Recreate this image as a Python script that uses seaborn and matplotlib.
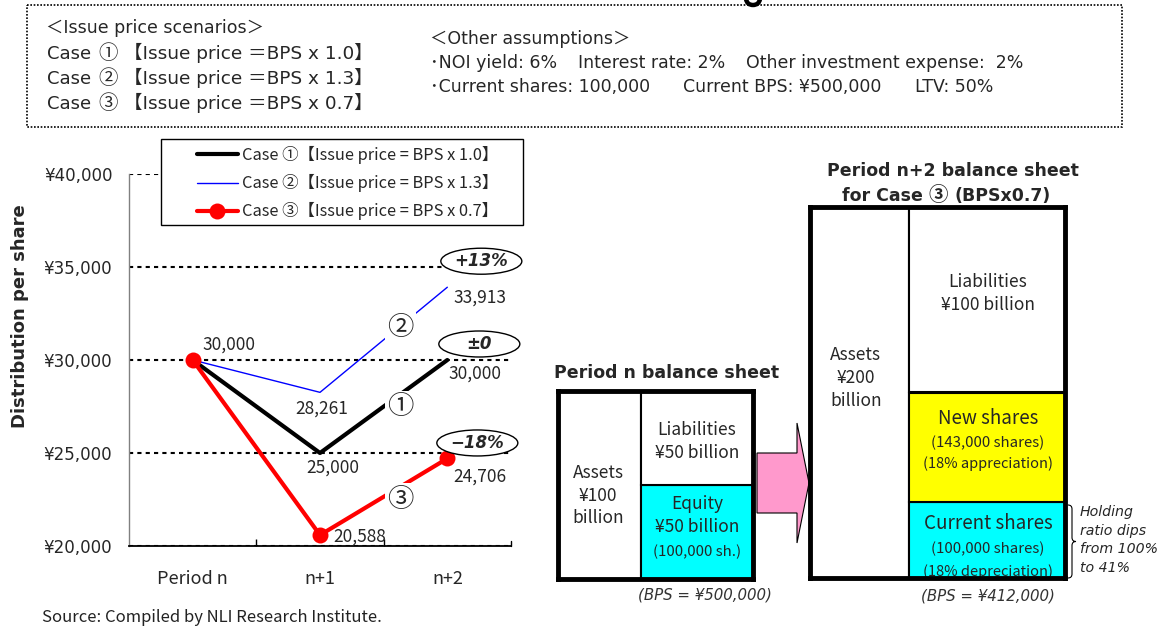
import numpy as np
import pandas as pd
import matplotlib
matplotlib.use("Agg")
import matplotlib.pyplot as plt
import matplotlib.patches as mpatches
from matplotlib.path import Path
from matplotlib.transforms import IdentityTransform
import seaborn as sns

# ---- data ---------------------------------------------------------------
periods = ["Period n", "n+1", "n+2"]
case1 = [30000, 25000, 30000]
case2 = [30000, 28261, 33913]
case3 = [30000, 20588, 24706]
case_names = ["Case ①【Issue price = BPS x 1.0】",
              "Case ②【Issue price = BPS x 1.3】",
              "Case ③【Issue price = BPS x 0.7】"]
circled = ["①", "②", "③"]
multipliers = ["1.0", "1.3", "0.7"]
change_labels = ["±0", "+13%", "−18%"]
y_ticks = [20000, 25000, 30000, 35000, 40000]
y_tick_labels = ["¥20,000", "¥25,000", "¥30,000", "¥35,000", "¥40,000"]

# balance sheets (¥ billion)
bs_n_assets = 100
bs_n_liab = 50
bs_n_equity = 50
bs_n2_assets = 200
bs_n2_liab = 100
bs_n2_new = 59
bs_n2_current = 41

# ---- style --------------------------------------------------------------
sns.set_theme(style="white")
NOTO = ["Noto Sans CJK JP", "DejaVu Sans"]
WIDE = ["DejaVu Sans", "Noto Sans CJK JP"]
plt.rcParams["font.family"] = NOTO
plt.rcParams["axes.unicode_minus"] = False
ITALIC = ["DejaVu Sans"]

W, H = 1165, 627
fig = plt.figure(figsize=(W / 100, H / 100), dpi=100)
fig.patch.set_facecolor("white")
renderer = fig.canvas.get_renderer()

# background canvas in pixel units (origin top-left)
bg = fig.add_axes([0, 0, 1, 1])
bg.set_xlim(0, W)
bg.set_ylim(H, 0)
bg.axis("off")
bg.set_zorder(-1)


def chain(x, y, parts):
    """Write text pieces one after another on a shared baseline."""
    for s, gap, kw in parts:
        x += gap
        t = bg.text(x, y, s, ha="left", va="baseline", **kw)
        x += t.get_window_extent(renderer).width
    return x


# ---- assumptions box ------------------------------------------------------
bg.add_patch(mpatches.Rectangle((27, 5), 1095, 122, fill=False, ec="black",
                                lw=1.2, ls=(0, (1, 1))))
# tail of the heading glyph just above the box
bg.add_patch(mpatches.PathPatch(
    Path([(746, -1), (747, 5), (753, 5), (759, 5), (760, -1)],
         [Path.MOVETO, Path.CURVE3, Path.CURVE3, Path.CURVE3, Path.CURVE3]),
    fill=False, ec="black", lw=3.2, clip_on=False))

top_fs = 12.5
TB = dict(fontsize=top_fs, va="center", family=WIDE)
bg.text(46, 28, "＜Issue price scenarios＞", **TB)
for k, mult in enumerate(multipliers):
    yb = 59 + 25 * k
    chain(47, yb, [
        ("Case", 0, dict(fontsize=13, family=WIDE)),
        (circled[k], 7, dict(fontsize=14, family=NOTO)),
        (f"【Issue price ＝BPS x {mult}】", 6, dict(fontsize=13.3, family=WIDE)),
    ])
bg.text(430, 39, "＜Other assumptions＞", **TB)
bg.text(430, 63, "･NOI yield: 6%", **TB)
bg.text(578, 63, "Interest rate: 2%", **TB)
bg.text(746, 63, "Other investment expense:  2%", **TB)
bg.text(430, 87, "･Current shares: 100,000", **TB)
bg.text(683, 87, "Current BPS: ¥500,000", **TB)
bg.text(915, 87, "LTV: 50%", **TB)

# ---- distribution per share line chart -----------------------------------
ax = fig.add_axes([129 / W, (H - 546) / H, (511 - 129) / W, (546 - 174) / H])
ax.set_facecolor("none")

pos = np.arange(len(periods))
df = pd.DataFrame({
    "pos": np.tile(pos, 3),
    "value": case1 + case2 + case3,
    "case": np.repeat(case_names, len(periods)),
})
line_styles = [
    dict(color="black", linewidth=3.0),
    dict(color="#0000FF", linewidth=1.0),
    dict(color="#FF0000", linewidth=3.0, marker="o", markersize=11.5,
         markeredgewidth=0),
]
for name, st in zip(case_names, line_styles):
    sns.lineplot(data=df[df["case"] == name], x="pos", y="value", ax=ax,
                 label=name, sort=False, **st)

ax.set_xlim(-0.5, len(periods) - 0.5)
ax.set_ylim(y_ticks[0], y_ticks[-1])
ax.set_xticks(pos, labels=periods)
ax.set_xticks(pos[:-1] + 0.5, minor=True)
ax.set_yticks(y_ticks, labels=y_tick_labels)
for lab in ax.get_yticklabels():
    lab.set_family(WIDE)
ax.tick_params(axis="y", length=0, pad=12, labelsize=12)
ax.tick_params(axis="x", which="major", length=0, pad=17, labelsize=13)
ax.tick_params(axis="x", which="minor", direction="in", length=5, width=1,
               color="black", bottom=True)
ax.set_xlabel("")
ax.set_ylabel("")
ax.yaxis.grid(True, color="black", ls=(0, (2, 2)), lw=1.5)
ax.xaxis.grid(False)
ax.set_axisbelow(True)
for s in ["top", "right"]:
    ax.spines[s].set_visible(False)
ax.spines["left"].set_color("#808080")
ax.spines["left"].set_linewidth(1.0)
ax.spines["bottom"].set_color("black")
ax.spines["bottom"].set_linewidth(1.3)
# tick mark at the right end of the category axis
ax.plot([len(periods) - 0.5] * 2, [y_ticks[0], y_ticks[0] + 250], color="black",
        lw=1, clip_on=False)

# legend with a frame that sits over the top gridline
ax.add_patch(mpatches.Rectangle((161, H - 225), 362, 86, transform=IdentityTransform(),
                                fc="white", ec="black", lw=1, zorder=4,
                                clip_on=False))
handles, labels = ax.get_legend_handles_labels()
leg = ax.legend(handles, labels, loc="upper left",
                bbox_to_anchor=(197 / W, 1 - 146 / H), bbox_transform=fig.transFigure,
                frameon=False, borderpad=0, borderaxespad=0,
                prop=dict(family=NOTO, size=11.8),
                handlelength=2.5, handletextpad=0.25, labelspacing=0.62)
leg.set_zorder(5)

# value labels
series = [case1, case2, case3]
value_offsets = {
    (0, 0): (36, 15),
    (0, 1): (13, -15), (1, 1): (2, -16), (2, 1): (40, -2),
    (0, 2): (28, -14), (1, 2): (33, -10), (2, 2): (33, -18),
}
for (ci, pi), (dx, dy) in value_offsets.items():
    v = series[ci][pi]
    ax.annotate(f"{v:,}", xy=(pos[pi], v), xytext=(dx, dy),
                textcoords="offset pixels", ha="center", va="center",
                fontsize=12.5, zorder=6)

# circled case markers on the last segment
for ci in range(3):
    v = series[ci][-1]
    dy = [-47, -40, -41][ci]
    ax.annotate(circled[ci], xy=(pos[-1], v), xytext=(-47, dy),
                textcoords="offset pixels", ha="center", va="center",
                fontsize=19, zorder=6,
                bbox=dict(boxstyle="square,pad=0.1", fc="white", ec="none"))

# change versus period n, in ellipses
ell_off = [(32, 16), (34, 26), (30, 15.5)]
for ci in range(3):
    px, py = ax.transData.transform((pos[-1], series[ci][-1]))
    dx, dy = ell_off[ci]
    fig.add_artist(mpatches.Ellipse((px + dx, py + dy), 81, 26,
                                    transform=IdentityTransform(), fc="white",
                                    ec="black", lw=1, zorder=3))
    fig.text(px + dx, py + dy, change_labels[ci], transform=IdentityTransform(),
             ha="center", va="center", fontsize=12, fontweight="bold",
             style="italic", family=ITALIC, zorder=4)

fig.text(20 / W, 1 - 316 / H, "Distribution per share", rotation=90,
         ha="center", va="center", fontsize=13, fontweight="bold", family=WIDE)
fig.text(42 / W, 1 - 618 / H, "Source: Compiled by NLI Research Institute.",
         ha="left", va="center", fontsize=12, color="#222222")

# ---- arrow between balance sheets ---------------------------------------------
bg.add_patch(mpatches.Polygon([(757, 453), (797, 453), (797, 423), (809, 483),
                               (797, 543), (797, 513), (757, 513)],
                              closed=True, fc="#FF99CC", ec="black", lw=0.8))

# ---- period n balance sheet --------------------------------------------------
cyan, yellow = "#00FFFF", "#FFFF00"
bs1 = fig.add_axes([558 / W, (H - 579) / H, 195 / W, 188 / H])
a1 = 0.426
bs1.bar(0, bs_n_assets, width=a1, align="edge", color="white", ec="black", lw=1.5)
bs1.bar(a1, bs_n_equity, width=1 - a1, align="edge", color=cyan, ec="black", lw=1.5)
bs1.bar(a1, bs_n_liab, bottom=bs_n_equity, width=1 - a1, align="edge",
        color="white", ec="black", lw=1.5)
bs1.set_xlim(0, 1)
bs1.set_ylim(0, bs_n_assets)

# ---- period n+2 balance sheet ------------------------------------------------
bs2 = fig.add_axes([810 / W, (H - 578) / H, 255 / W, 371 / H])
a2 = 0.388
bs2.bar(0, bs_n2_assets, width=a2, align="edge", color="white", ec="black", lw=1.5)
bs2.bar(a2, bs_n2_current, width=1 - a2, align="edge", color=cyan, ec="black", lw=1.5)
bs2.bar(a2, bs_n2_new, bottom=bs_n2_current, width=1 - a2, align="edge",
        color=yellow, ec="black", lw=1.5)
bs2.bar(a2, bs_n2_liab, bottom=bs_n2_current + bs_n2_new, width=1 - a2,
        align="edge", color="white", ec="black", lw=1.5)
bs2.set_xlim(0, 1)
bs2.set_ylim(0, bs_n2_assets)

for b in (bs1, bs2):
    b.set_xticks([])
    b.set_yticks([])
    b.grid(False)
    for s in b.spines.values():
        s.set_color("black")
        s.set_linewidth(3.5)
        s.set_zorder(5)

body = 12.5
small = 10.8
T = dict(ha="center", va="center")
TITLE = dict(fontsize=12.5, fontweight="bold", family=WIDE)
bs1.text(0.559, 1.096, "Period n balance sheet", transform=bs1.transAxes,
         **TITLE, **T)
bs1.text(0.205, 0.444, "Assets\n¥100\nbillion", transform=bs1.transAxes,
         fontsize=body, linespacing=1.35, **T)
bs1.text(0.713, 0.731, "Liabilities\n¥50 billion", transform=bs1.transAxes,
         fontsize=body, linespacing=1.35, **T)
bs1.text(0.713, 0.340, "Equity\n¥50 billion", transform=bs1.transAxes,
         fontsize=body, linespacing=1.35, **T)
bs1.text(0.713, 0.144, "(100,000 sh.)", transform=bs1.transAxes,
         fontsize=small, **T)
bs1.text(0.754, -0.085, "(BPS = ¥500,000)", transform=bs1.transAxes,
         fontsize=10.8, style="italic", family=ITALIC, color="#333333",
         clip_on=False, **T)

bs2.text(0.561, 1.097, "Period n+2 balance sheet", transform=bs2.transAxes,
         **TITLE, **T)
chain(842, 201, [
    ("for Case", 0, dict(fontsize=12.5, fontweight="bold", family=WIDE)),
    ("③", 6, dict(fontsize=14, fontweight="bold", family=NOTO)),
    ("(BPSx0.7)", 6, dict(fontsize=12.5, fontweight="bold", family=WIDE)),
])
bs2.text(0.180, 0.539, "Assets\n¥200\nbillion", transform=bs2.transAxes,
         fontsize=body, linespacing=1.35, **T)
bs2.text(0.698, 0.768, "Liabilities\n¥100 billion", transform=bs2.transAxes,
         fontsize=body, linespacing=1.35, **T)
bs2.text(0.698, 0.431, "New shares", transform=bs2.transAxes, fontsize=13.5, **T)
bs2.text(0.698, 0.364, "(143,000 shares)", transform=bs2.transAxes, fontsize=small, **T)
bs2.text(0.698, 0.307, "(18% appreciation)", transform=bs2.transAxes, fontsize=10.5, **T)
bs2.text(0.698, 0.148, "Current shares", transform=bs2.transAxes, fontsize=13.5, **T)
bs2.text(0.698, 0.078, "(100,000 shares)", transform=bs2.transAxes, fontsize=small, **T)
bs2.text(0.698, 0.017, "(18% depreciation)", transform=bs2.transAxes, fontsize=10.5,
         zorder=2, **T)
bs2.text(0.698, -0.0485, "(BPS = ¥412,000)", transform=bs2.transAxes,
         fontsize=10.8, style="italic", family=ITALIC, color="#333333",
         clip_on=False, **T)

# brace and holding-ratio note
def brace_path(x, y0, y1, w):
    ym = (y0 + y1) / 2
    h = w / 2
    verts = [(x, y0), (x + h, y0), (x + h, y0 + h),
             (x + h, ym - h), (x + h, ym), (x + w, ym),
             (x + h, ym), (x + h, ym + h),
             (x + h, y1 - h), (x + h, y1), (x, y1)]
    codes = [Path.MOVETO, Path.CURVE3, Path.CURVE3,
             Path.LINETO, Path.CURVE3, Path.CURVE3,
             Path.CURVE3, Path.CURVE3,
             Path.LINETO, Path.CURVE3, Path.CURVE3]
    return Path(verts, codes)

bg.add_patch(mpatches.PathPatch(brace_path(1068, 505, 578, 8), fill=False,
                                ec="black", lw=0.8))
bg.text(1080, 540, "Holding\nratio dips\nfrom 100%\nto 41%", fontsize=10.2,
        style="italic", family=ITALIC, ha="left", va="center", linespacing=1.45)

fig.savefig("out.png", dpi=100)
